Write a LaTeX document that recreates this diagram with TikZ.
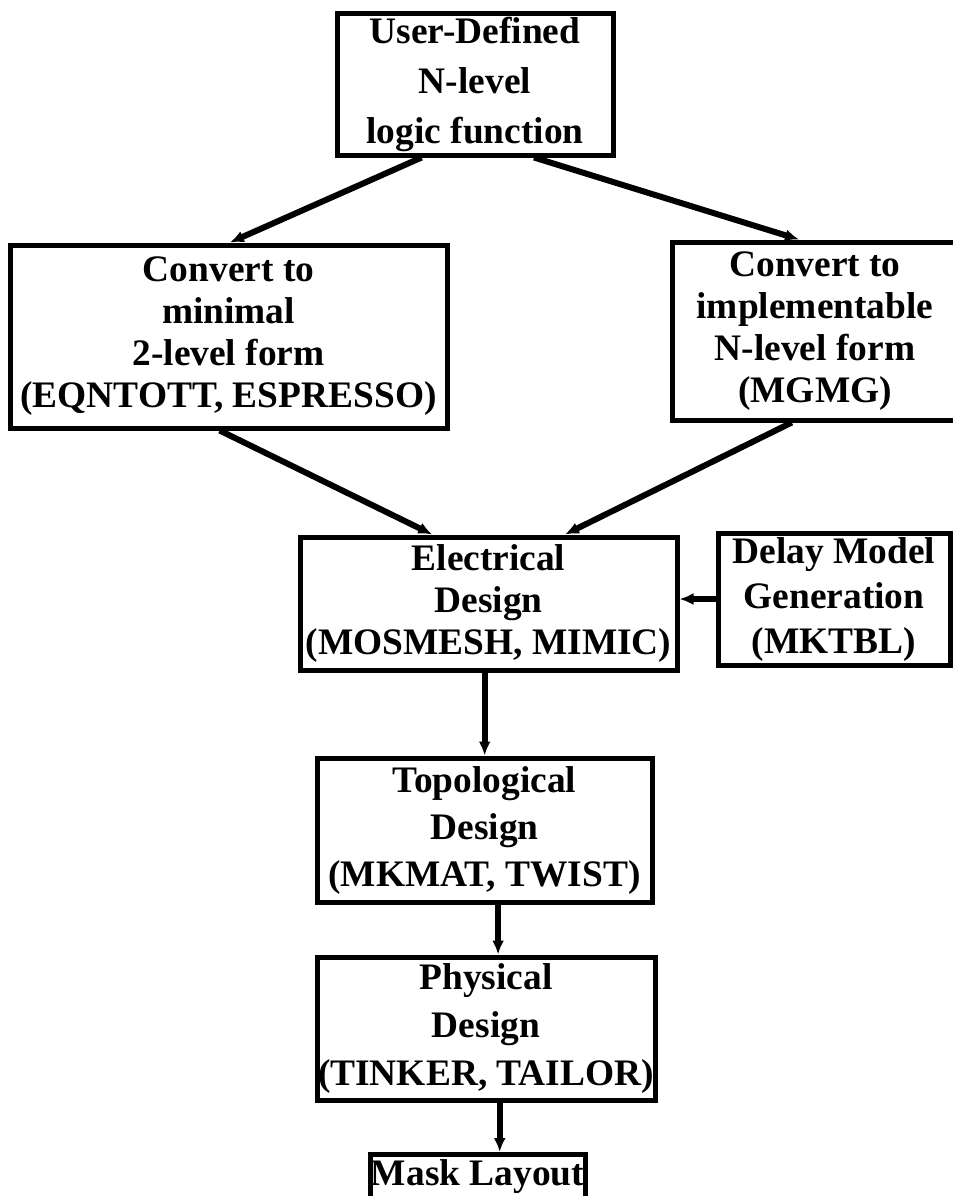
\documentclass[tikz,border=0pt]{standalone}
\usepackage{fontspec}
\setmainfont{Liberation Serif}
\usetikzlibrary{arrows.meta,calc}
\tikzset{
  box/.style={draw=black, line width=2.5pt, inner sep=0pt, align=center,
    font=\fontsize{18.7}{21}\selectfont\bfseries},
  conn/.style={draw=black, line width=3pt, -{Latex[length=7pt,width=6pt]}},
}
\begin{document}
\begin{tikzpicture}[x=0.5pt,y=-0.5pt]
\useasboundingbox (0,0) rectangle (953,1196);
\node[box, minimum width=138pt, minimum height=71pt,
  font=\fontsize{18.7}{25}\selectfont\bfseries] (top) at (475,84)
  {User-Defined\\N-level\\logic function};
\node[box, minimum width=218.5pt, minimum height=91.5pt] (left) at (228.5,336.5)
  {Convert to\\minimal\\2-level form\\(EQNTOTT, ESPRESSO)};
\node[box, minimum width=142.5pt, minimum height=89pt] (right) at (815,331)
  {Convert to\\implementable\\N-level form\\(MGMG)};
\node[box, minimum width=188.5pt, minimum height=66.5pt] (elec) at (488.5,603.5)
  {Electrical\\Design\\(MOSMESH, MIMIC)};
\node[box, minimum width=116pt, minimum height=66pt,
  font=\fontsize{18.7}{22.5}\selectfont\bfseries] (delay) at (834,599)
  {Delay Model\\Generation\\(MKTBL)};
\node[box, minimum width=167.5pt, minimum height=72pt,
  font=\fontsize{18.7}{23.5}\selectfont\bfseries] (topo) at (484.5,830)
  {Topological\\Design\\(MKMAT, TWIST)};
\node[box, minimum width=169pt, minimum height=71.5pt,
  font=\fontsize{18.7}{24}\selectfont\bfseries] (phys) at (486,1028.5)
  {Physical\\Design\\(TINKER, TAILOR)};
\node[box, minimum width=107.5pt, minimum height=22.5pt] (mask) at (477.5,1177)
  {Mask Layout};
% connectors
\draw[conn] ($(top.south west)!0.31!(top.south east)$) -- ($(left.north west)!0.503!(left.north east)$);
\draw[conn] ($(top.south west)!0.71!(top.south east)$) -- ($(right.north west)!0.445!(right.north east)$);
\draw[conn] ($(left.south west)!0.48!(left.south east)$) -- ($(elec.north west)!0.353!(elec.north east)$);
\draw[conn] ($(right.south west)!0.42!(right.south east)$) -- ($(elec.north west)!0.70!(elec.north east)$);
\draw[conn] (delay.west) -- (delay.west -| elec.east);
\coordinate (e1) at ($(elec.south west)!0.49!(elec.south east)$);
\draw[conn] (e1) -- (e1 |- topo.north);
\coordinate (t1) at ($(topo.south west)!0.54!(topo.south east)$);
\draw[conn] (t1) -- (t1 |- phys.north);
\coordinate (p1) at ($(phys.south west)!0.54!(phys.south east)$);
\draw[conn] (p1) -- (p1 |- mask.north);
\end{tikzpicture}
\end{document}
